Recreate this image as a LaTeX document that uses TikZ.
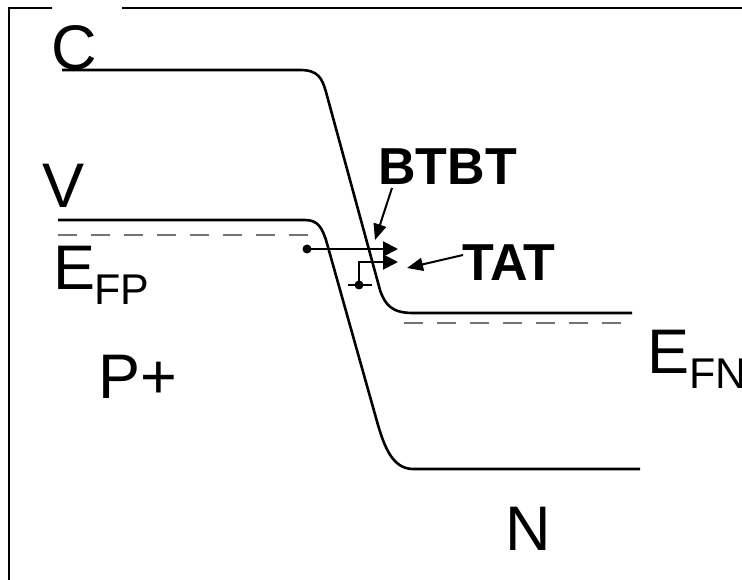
\documentclass[tikz,border=0pt]{standalone}
\usepackage{fontspec}
\setmainfont{Liberation Sans}
\usetikzlibrary{arrows.meta}
\begin{document}
\begin{tikzpicture}[x=1pt,y=-1pt,
  band/.style={line width=2.6pt, line join=round},
  fermi/.style={draw=black!55, line width=1.6pt, dash pattern=on 19pt off 14pt},
  frame/.style={line width=2pt},
  lbl/.style={inner sep=0pt, anchor=base west, font=\fontsize{63}{63}\selectfont},
  sublbl/.style={inner sep=0pt, anchor=base west, font=\fontsize{43}{43}\selectfont},
  boldlbl/.style={inner sep=0pt, anchor=base west, font=\fontsize{52}{52}\selectfont\bfseries},
  tunnel/.style={line width=2pt, -{Triangle[length=15pt,width=15pt]}},
  pointer/.style={line width=2pt, -{Triangle[length=16pt,width=13pt]}},
  dotmark/.style={circle, fill, inner sep=0pt, minimum size=9pt},
]
\useasboundingbox (0,0) rectangle (742,580);
% frame
\draw[frame] (9,580) -- (9,8) -- (52,8);
\draw[frame] (122,8) -- (742,8);
% Fermi levels
\draw[fermi] (58,235) -- (320,235);
\draw[fermi] (404,323) -- (632,323);
% bands
\draw[band] (62,70) -- (300,70) .. controls (318,70) and (322,78) .. (326,92)
  -- (380,290) .. controls (385,305) and (392,313) .. (413,313) -- (632,313);
\draw[band] (58,220) -- (305,220) .. controls (318,220) and (322,228) .. (326,240)
  -- (378,425) .. controls (384,445) and (392,469) .. (413,469) -- (640,469);
% labels
\node[lbl] (lc) at (51,70) {C};
\node[lbl] (lv) at (42,208) {V};
\node[lbl] (lefp) at (53,290) {E};
\node[sublbl] (lefps) at (94,305) {FP};
\node[lbl] (lp) at (98,398) {P+};
\node[lbl] (lefn) at (647,373) {E};
\node[sublbl] (lefns) at (689,388) {FN};
\node[lbl] (ln) at (505,550) {N};
\node[boldlbl] (btbt) at (378,185) {BTBT};
\node[boldlbl] (tat) at (462,280) {TAT};
% tunnelling paths
\node[dotmark] (e1) at (307,249) {};
\coordinate (t1) at (398,249);
\draw[tunnel] (e1.center) -- (t1);
\node[dotmark] (e2) at (359,285) {};
\coordinate (trapL) at (348,285);
\coordinate (trapR) at (372,285);
\draw[line width=2pt] (trapL) -- (trapR);
\coordinate (up) at (359,262);
\coordinate (t2) at (398,262);
\draw[tunnel] (e2.center) -- (up) -- (t2);
% pointers
\coordinate (pb) at (392,188);
\coordinate (pbt) at (375,240);
\draw[pointer] (pb) -- (pbt);
\coordinate (pt) at (463,255);
\coordinate (ptt) at (407,268);
\draw[pointer] (pt) -- (ptt);
\end{tikzpicture}
\end{document}
